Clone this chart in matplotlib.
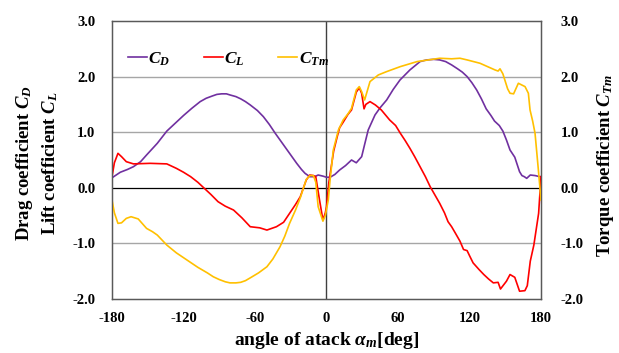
import numpy as np
import matplotlib
matplotlib.use('Agg')
import matplotlib.pyplot as plt

plt.rcParams['font.family'] = ['Liberation Serif', 'DejaVu Serif']
plt.rcParams['font.weight'] = 'bold'
plt.rcParams['axes.labelweight'] = 'bold'
plt.rcParams['mathtext.fontset'] = 'custom'
plt.rcParams['mathtext.rm'] = 'Liberation Serif:bold'
plt.rcParams['mathtext.it'] = 'Liberation Serif:italic:bold'
plt.rcParams['mathtext.bf'] = 'Liberation Serif:bold'

# drag coefficient C_D
cd_deg = [-180, -173, -167, -162, -156, -151, -142, -134, -127, -120, -113, -106, -101, -96,
          -92, -88, -84, -81, -76, -72, -68, -64, -58, -53, -48, -43, -38, -33, -29, -25,
          -21, -18, -14, -10, -7, -3, 0, 3, 7, 11, 16, 21, 25, 29.5, 32, 35, 40.7, 45, 50.5,
          56, 61.7, 70, 78.5, 84, 90, 95, 100, 105, 110, 114, 118, 122, 126, 130, 134, 138,
          141, 145, 148, 151, 154, 158, 160, 162, 164, 166, 168, 171, 175, 179, 180]
cd_val = [0.18, 0.28, 0.33, 0.38, 0.47, 0.59, 0.80, 1.02, 1.16, 1.30, 1.43, 1.55, 1.61, 1.65,
          1.68, 1.69, 1.69, 1.67, 1.64, 1.60, 1.55, 1.49, 1.39, 1.28, 1.14, 0.98, 0.83, 0.68,
          0.56, 0.44, 0.33, 0.26, 0.20, 0.20, 0.23, 0.21, 0.19, 0.19, 0.24, 0.32, 0.40, 0.50,
          0.45, 0.56, 0.78, 1.04, 1.31, 1.44, 1.58, 1.77, 1.94, 2.12, 2.27, 2.30, 2.31, 2.30,
          2.27, 2.21, 2.14, 2.08, 2.00, 1.89, 1.76, 1.60, 1.42, 1.30, 1.20, 1.12, 1.02, 0.86,
          0.68, 0.55, 0.42, 0.29, 0.22, 0.20, 0.17, 0.23, 0.22, 0.20, 0.20]

# lift coefficient C_L
cl_deg = [-180, -178, -175, -172, -168, -162, -148, -134, -126, -120, -114, -108, -103, -97,
          -91, -85, -78, -71, -64, -56, -50, -46, -42, -36, -31, -26, -22, -17, -14, -11, -9,
          -6, -3, -1, 0, 2, 4, 6, 9, 11, 14, 18, 21, 25, 27.5, 29.5, 31.5, 33, 36.5, 41, 46,
          53, 58, 62, 66, 70, 74, 78.5, 83, 87, 91, 95, 99, 102, 105, 108, 112, 115, 118, 120,
          123, 128, 132, 136, 140, 144, 146, 151, 154, 158, 162, 166.5, 168.5, 171, 174, 178,
          180]
cl_val = [0.20, 0.45, 0.62, 0.56, 0.47, 0.43, 0.44, 0.43, 0.35, 0.28, 0.20, 0.10, 0.00, -0.12,
          -0.25, -0.33, -0.40, -0.54, -0.70, -0.72, -0.76, -0.73, -0.70, -0.62, -0.46, -0.30,
          -0.16, 0.14, 0.23, 0.22, 0.20, -0.20, -0.58, -0.45, -0.34, 0.10, 0.38, 0.66, 0.92,
          1.08, 1.18, 1.32, 1.40, 1.72, 1.80, 1.70, 1.42, 1.50, 1.55, 1.49, 1.40, 1.22, 1.12,
          0.98, 0.85, 0.71, 0.56, 0.38, 0.20, 0.02, -0.13, -0.28, -0.45, -0.61, -0.70, -0.81,
          -0.96, -1.11, -1.13, -1.22, -1.35, -1.47, -1.56, -1.64, -1.71, -1.70, -1.82, -1.68,
          -1.56, -1.61, -1.86, -1.85, -1.76, -1.32, -1.03, -0.46, 0.20]

# torque coefficient C_Tm
ct_deg = [-180, -178, -175, -172, -168, -164, -158, -151, -146, -142, -134, -126, -117, -108,
          -100, -95, -90, -85, -81, -76, -72, -68, -64, -57, -50, -45, -39, -35, -31, -26, -22,
          -17, -14, -11, -9, -7, -3, -1, 1.5, 3, 5.7, 10, 14, 18, 21, 25, 27.5, 29.5, 32,
          36.5, 43.5, 50.5, 62, 76, 95, 105, 112, 118, 128.8, 141.4, 144, 145.6, 148, 152,
          154, 157, 161, 166.6, 169.4, 170.8, 173, 175, 177.8, 180]
ct_val = [-0.22, -0.45, -0.64, -0.63, -0.55, -0.52, -0.56, -0.73, -0.79, -0.85, -1.03, -1.17,
          -1.30, -1.43, -1.53, -1.60, -1.65, -1.69, -1.71, -1.71, -1.70, -1.67, -1.62, -1.53,
          -1.42, -1.28, -1.06, -0.87, -0.64, -0.40, -0.18, 0.15, 0.22, 0.22, 0.10, -0.34,
          -0.60, -0.50, -0.22, 0.14, 0.68, 1.04, 1.22, 1.33, 1.43, 1.76, 1.82, 1.73, 1.58, 1.91,
          2.03, 2.09, 2.18, 2.27, 2.33, 2.32, 2.33, 2.30, 2.24, 2.12, 2.10, 2.14, 2.05, 1.78,
          1.70, 1.69, 1.88, 1.82, 1.70, 1.40, 1.20, 0.98, 0.32, -0.22]

x_ticks = [-180, -120, -60, 0, 60, 120, 180]
y_ticks = [-2.0, -1.0, 0.0, 1.0, 2.0, 3.0]

fig = plt.figure(figsize=(6.19, 3.53), dpi=100)
ax = fig.add_axes([112/619, 1-299/353, (541-112)/619, (299-21)/353])

for y in [-1.0, 1.0, 2.0]:
    ax.axhline(y, color='#a6a6a6', lw=1.0, zorder=1)
ax.axhline(0, color='black', lw=0.9, zorder=1)
ax.axvline(0, color='#404040', lw=1.0, zorder=1)

ax.plot(cd_deg, cd_val, color='#7030A0', lw=1.2, label='$C_D$', zorder=3)
ax.plot(cl_deg, cl_val, color='#FF0000', lw=1.2, label='$C_L$', zorder=3)
ax.plot(ct_deg, ct_val, color='#FFC000', lw=1.2, label='$C_{Tm}$', zorder=4)

ax.set_xlim(-180, 180)
ax.set_ylim(-2, 3)
ax.set_xticks(x_ticks)
ax.set_xticklabels([str(t) for t in x_ticks])
ax.set_yticks(y_ticks)
ax.set_yticklabels(['%.1f' % t for t in y_ticks])
ax.tick_params(length=0, labelsize=10.5, pad=12)
ax.tick_params(axis='x', pad=9)
for s in ax.spines.values():
    s.set_color('#595959')
    s.set_linewidth(1.0)

ax2 = ax.twinx()
ax2.set_ylim(-2, 3)
ax2.set_yticks(y_ticks)
ax2.set_yticklabels(['%.1f' % t for t in y_ticks])
ax2.tick_params(length=0, labelsize=10.5, pad=14)
for s in ax2.spines.values():
    s.set_color('#595959')

leg = ax.legend(loc='upper left', bbox_to_anchor=(0.0, 0.95), ncol=3, frameon=False,
                handlelength=1.1, handletextpad=0.1, columnspacing=1.9, fontsize=12.5)

ax.set_xlabel(r'angle of atack $\alpha_m$[deg]', fontsize=14, fontweight='bold', labelpad=4)
fig.text(25/619, 1-163/353, r'Drag coefficient $C_D$', rotation=90, ha='center', va='center',
         fontsize=13.5)
fig.text(50/619, 1-163/353, r'Lift coefficient $C_L$', rotation=90, ha='center', va='center',
         fontsize=13.5)
fig.text(605/619, 1-165/353, r'Torque coefficient $C_{Tm}$', rotation=90, ha='center',
         va='center', fontsize=13.5)

fig.savefig('out.png', dpi=100)
